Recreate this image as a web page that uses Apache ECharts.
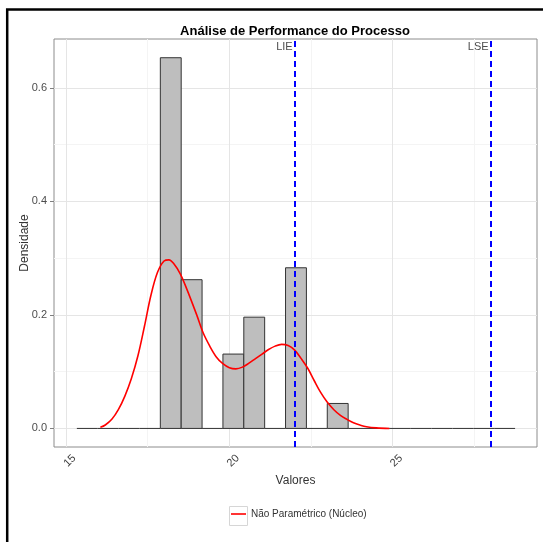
<!DOCTYPE html>
<html>
<head>
<meta charset="utf-8">
<script src="https://cdn.jsdelivr.net/npm/echarts@6/dist/echarts.min.js"></script>
<style>
  html, body { margin: 0; padding: 0; background: #ffffff; }
  #chart { width: 543px; height: 542px; }
</style>
</head>
<body>
<div id="chart"></div>
<script>
// Histogram bin edges (21 bins) and density height of each bin
const binEdges = [15.330, 15.969, 16.608, 17.247, 17.886, 18.525, 19.164, 19.803, 20.442, 21.081,
                  21.720, 22.359, 22.998, 23.637, 24.276, 24.915, 25.554, 26.193, 26.832, 27.471,
                  28.110, 28.749];
const binDensity = [0, 0, 0, 0, 0.653, 0.262, 0, 0.131, 0.196, 0,
                    0.283, 0, 0.044, 0, 0, 0, 0, 0, 0, 0, 0];

// Kernel density estimate
const kernelX = [16.05, 16.2, 16.4, 16.6, 16.8, 17.0, 17.2, 17.4, 17.6, 17.8, 18.0, 18.15, 18.3,
                 18.5, 18.7, 19.0, 19.2, 19.4, 19.6, 19.8, 20.0, 20.2, 20.4, 20.6, 20.8, 21.0,
                 21.2, 21.4, 21.6, 21.8, 22.0, 22.2, 22.4, 22.6, 22.8, 23.0, 23.2, 23.4, 23.6,
                 23.8, 24.0, 24.2, 24.5, 24.9];
const kernelY = [0.002, 0.006, 0.016, 0.033, 0.057, 0.088, 0.128, 0.180, 0.235, 0.275, 0.295, 0.297, 0.290,
                 0.272, 0.245, 0.200, 0.168, 0.145, 0.126, 0.114, 0.107, 0.105, 0.108, 0.115, 0.123, 0.131,
                 0.139, 0.145, 0.148, 0.146, 0.138, 0.123, 0.106, 0.084, 0.063, 0.046, 0.033, 0.023, 0.016,
                 0.010, 0.006, 0.003, 0.001, 0.0];

// Specification limits
const limitValues = [22, 28];
const limitNames = ['LIE', 'LSE'];

// Axis ticks and grid
const xTicks = [15, 20, 25];
const xMinorGrid = [17.5, 22.5, 27.5];
const yTicks = [0, 0.2, 0.4, 0.6];
const yMinorGrid = [0.1, 0.3, 0.5];

const X_MIN = 14.63, X_MAX = 29.42;
const Y_MIN = -0.0327, Y_MAX = 0.686;

const FONT = 'Liberation Sans, Arial, Helvetica, sans-serif';
const LEGEND_NAME = 'Não Paramétrico (Núcleo)';

const chart = echarts.init(document.getElementById('chart'), null, { renderer: 'canvas' });

const gridLine = (vals, axis) => vals.map(v => ({ [axis]: v }));

const option = {
  animation: false,
  backgroundColor: '#ffffff',
  title: {
    text: 'Análise de Performance do Processo',
    left: 295,
    top: 25,
    padding: 0,
    textAlign: 'center',
    textStyle: { fontFamily: FONT, fontSize: 13, fontWeight: 'bold', color: '#000000' }
  },
  grid: {
    left: 54, right: 6, top: 39, bottom: 95,
    show: true, backgroundColor: '#ffffff', borderColor: '#8c8c8c', borderWidth: 1
  },
  legend: {
    data: [{ name: LEGEND_NAME, icon: 'rect' }],
    left: 231, top: 509,
    itemWidth: 15, itemHeight: 1.6,
    padding: 0,
    itemStyle: { color: '#ff0000' },
    textStyle: { fontFamily: FONT, fontSize: 10, color: '#333333' }
  },
  xAxis: {
    type: 'value', min: X_MIN, max: X_MAX,
    axisLine: { show: false },
    splitLine: { show: false },
    axisTick: { show: true, customValues: xTicks, length: 4, lineStyle: { color: '#7f7f7f' } },
    axisLabel: {
      customValues: xTicks, rotate: 45, align: 'center', verticalAlign: 'top', margin: 10,
      color: '#3d3d3d', fontFamily: FONT, fontSize: 11
    },
    name: 'Valores', nameLocation: 'middle', nameGap: 28, nameMoveOverlap: false,
    nameTextStyle: { fontFamily: FONT, fontSize: 12, color: '#333333', verticalAlign: 'top' }
  },
  yAxis: {
    type: 'value', min: Y_MIN, max: Y_MAX,
    axisLine: { show: false },
    splitLine: { show: false },
    axisTick: { show: true, customValues: yTicks, length: 4, lineStyle: { color: '#7f7f7f' } },
    axisLabel: {
      customValues: yTicks, margin: 7, formatter: v => v.toFixed(1),
      color: '#4d4d4d', fontFamily: FONT, fontSize: 11
    },
    name: 'Densidade', nameLocation: 'middle', nameGap: 23, nameRotate: 90, nameMoveOverlap: false,
    nameTextStyle: { fontFamily: FONT, fontSize: 12, color: '#333333' }
  },
  graphic: [
    {
      type: 'rect', silent: true, z: 100,
      shape: { x: 7.2, y: 9.5, width: 560, height: 560 },
      style: { fill: 'none', stroke: '#000000', lineWidth: 2.5 }
    },
    {
      type: 'rect', silent: true, z: 0,
      shape: { x: 229.5, y: 506.5, width: 18, height: 19 },
      style: { fill: 'none', stroke: '#d6d6d6', lineWidth: 1 }
    }
  ],
  series: [
    {
      // minor grid
      type: 'line', data: [], z: 1, silent: true,
      markLine: {
        z: 1, silent: true, symbol: ['none', 'none'], label: { show: false },
        lineStyle: { color: '#f4f4f4', width: 1, type: 'solid' },
        emphasis: { disabled: true },
        data: gridLine(xMinorGrid, 'xAxis').concat(gridLine(yMinorGrid, 'yAxis'))
      }
    },
    {
      // major grid
      type: 'line', data: [], z: 1, silent: true,
      markLine: {
        z: 1, silent: true, symbol: ['none', 'none'], label: { show: false },
        lineStyle: { color: '#e5e5e5', width: 1, type: 'solid' },
        emphasis: { disabled: true },
        data: gridLine(xTicks, 'xAxis').concat(gridLine(yTicks, 'yAxis'))
      }
    },
    {
      // histogram
      type: 'custom', z: 2, silent: true,
      data: binDensity.map((d, i) => [binEdges[i], binEdges[i + 1], d]),
      encode: { x: [0, 1], y: 2 },
      renderItem: (params, api) => {
        const p0 = api.coord([api.value(0), api.value(2)]);
        const p1 = api.coord([api.value(1), 0]);
        if (api.value(2) <= 0) {
          return {
            type: 'line',
            shape: { x1: p0[0], y1: p1[1], x2: p1[0], y2: p1[1] },
            style: { stroke: '#333333', lineWidth: 1 }
          };
        }
        return {
          type: 'rect',
          shape: { x: p0[0], y: p0[1], width: p1[0] - p0[0], height: p1[1] - p0[1] },
          style: { fill: '#bebebe', stroke: '#333333', lineWidth: 1 }
        };
      }
    },
    {
      name: LEGEND_NAME,
      type: 'line', z: 3,
      data: kernelX.map((x, i) => [x, kernelY[i]]),
      symbol: 'none', showSymbol: false, smooth: 0.35,
      lineStyle: { color: '#ff0000', width: 1.6 },
      itemStyle: { color: '#ff0000' }
    },
    {
      // specification limit lines
      type: 'line', data: [], z: 4, silent: true,
      markLine: {
        z: 6, silent: true, symbol: ['none', 'none'], label: { show: false },
        lineStyle: { color: '#0000ff', width: 2, type: [6, 4] },
        emphasis: { disabled: true },
        data: gridLine(limitValues, 'xAxis')
      }
    },
    {
      // specification limit names
      type: 'custom', z: 5, silent: true,
      data: limitValues.map(v => [v, Y_MAX]),
      renderItem: (params, api) => {
        const p = api.coord([api.value(0), api.value(1)]);
        return {
          type: 'text',
          x: p[0] - 2, y: p[1] + 2,
          style: {
            text: limitNames[params.dataIndex], fill: '#4d4d4d',
            font: '11px ' + FONT, align: 'right', verticalAlign: 'top'
          }
        };
      }
    }
  ]
};

chart.setOption(option);
</script>
</body>
</html>
